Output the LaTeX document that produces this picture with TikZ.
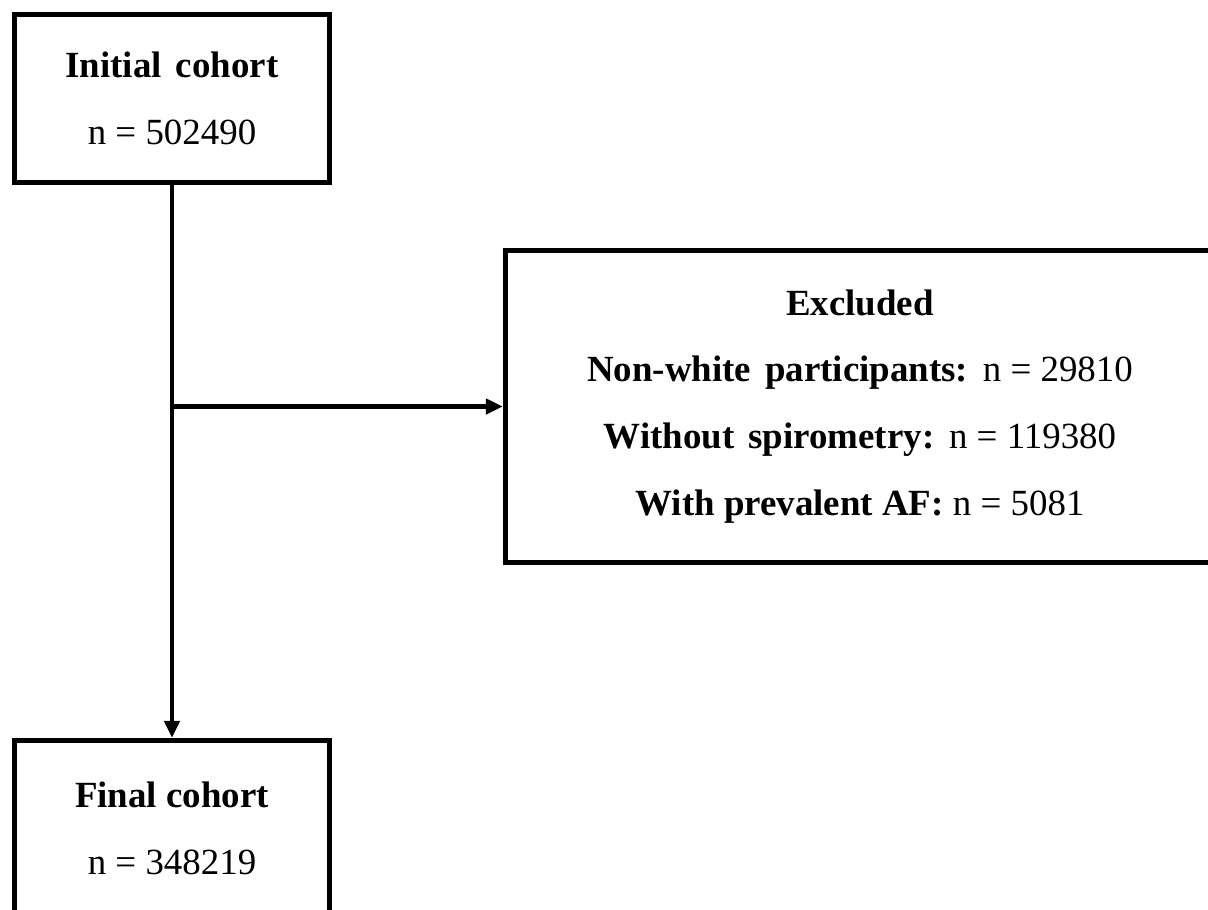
\documentclass[tikz,border=0pt]{standalone}
\usepackage{fontspec}
\setmainfont{Liberation Serif}
\usetikzlibrary{arrows.meta}

\tikzset{
    cohortbox/.style={draw, line width=3pt, minimum width=6.3cm, align=center,
        font=\fontsize{21}{38}\selectfont},
    flowline/.style={line width=2.4pt, -{Triangle[length=0.34cm,width=0.3cm]}}
}

\begin{document}
\begin{tikzpicture}
                \useasboundingbox (0,0) rectangle (24.16,-18.18);

                % Draw boxes
                \node[cohortbox, minimum height=3.36cm] (initial) at (3.44,-1.97)
                    {\textbf{Initial\hspace{0.38em}cohort}\\ n = 502490};
                \node[cohortbox, minimum width=14.18cm, minimum height=6.24cm] (excluded) at (17.2,-8.13)
                    {\textbf{Excluded}\\
                     \textbf{Non-white\hspace{0.38em}participants:}\hspace{0.4em}n = 29810\\
                     \textbf{Without\hspace{0.38em}spirometry:}\hspace{0.4em}n = 119380\\
                     \textbf{With\ prevalent\ AF:}\ n = 5081};
                \node[cohortbox, minimum height=3.5cm] (final) at (3.44,-16.56)
                    {\textbf{Final cohort}\\ n = 348219};

                % Draw arrows
                \coordinate (split) at (initial.south |- excluded.west);
                \draw[flowline] (initial.south) -- (final.north);
                \draw[flowline] (split) -- (excluded.west);
            \end{tikzpicture}
\end{document}
